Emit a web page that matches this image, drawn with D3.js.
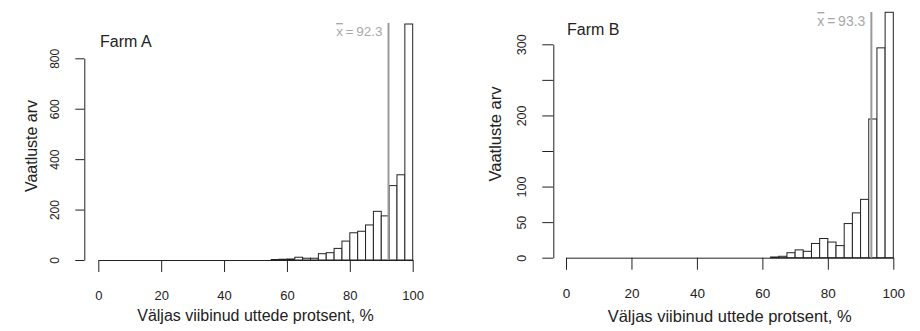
<!DOCTYPE html>
<html><head><meta charset="utf-8">
<script src="https://cdn.jsdelivr.net/npm/d3@7/dist/d3.min.js"></script>
<style>
body{margin:0;background:#fff}
text{font-family:"Liberation Sans",Arial,sans-serif;fill:#222}
</style>
</head><body>
<svg id="c" width="920" height="331"></svg>
<script>
// ---- data ----
const binBreaks = [0,2.5,5,7.5,10,12.5,15,17.5,20,22.5,25,27.5,30,32.5,35,37.5,40,42.5,45,47.5,50,52.5,55,57.5,60,62.5,65,67.5,70,72.5,75,77.5,80,82.5,85,87.5,90,92.5,95,97.5,100];
const countsA = [0,0,0,0,0,0,0,0,0,0,0,0,0,0,0,0,0,0,0,0,0,0,2,3,4,11,7,7,25,29,46,75,108,114,139,193,175,295,338,936];
const countsB = [0,0,0,0,0,0,0,0,0,0,0,0,0,0,0,0,0,0,0,0,0,0,0,0,0,1,2,7,11,9,20,27,22,17,48,63,82,195,295,345];
const xTicks = [0,20,40,60,80,100];
const yTicksA = [0,200,400,600,800];
const yLabelsA = ["0","200","400","600","800"];
const yTicksB = [0,50,100,150,200,250,300];
const yLabelsB = ["0","50","100","","200","","300"];
const meanA = 92.3, meanB = 93.3;
const titleA = "Farm A", titleB = "Farm B";
const xTitle = "Väljas viibinud uttede protsent, %";
const yTitle = "Vaatluste arv";

const svg = d3.select("#c");

function panel(o){
  const g = svg.append("g");
  const x = d3.scaleLinear().domain([0,100]).range([o.x0,o.x1]);
  const y = d3.scaleLinear().domain([0,o.yMax]).range([o.y0,o.y1]);
  const bins = o.counts.map((c,i)=>({a:binBreaks[i],b:binBreaks[i+1],c}));
  // bars
  g.selectAll("rect.bar").data(bins).enter().append("rect")
    .attr("x",d=>x(d.a)).attr("width",d=>x(d.b)-x(d.a))
    .attr("y",d=>y(d.c)).attr("height",d=>y(0)-y(d.c))
    .attr("fill","#fff").attr("stroke","#222").attr("stroke-width",1);
  // x axis
  const xa = g.append("g").attr("transform",`translate(0,${y(0)})`)
    .call(d3.axisBottom(x).tickValues(xTicks).tickSize(o.xTick).tickSizeOuter(0).tickFormat(d3.format("d")));
  xa.select(".domain").attr("stroke","#222");
  xa.selectAll(".tick line").attr("stroke","#222");
  xa.selectAll("text").attr("y",o.xLabY).attr("dy",0).style("font-size",o.xFs+"px").attr("font-family",null).attr("fill","#222");
  // y axis
  const ya = g.append("g").attr("transform",`translate(${o.ax},0)`)
    .call(d3.axisLeft(y).tickValues(o.yTicks).tickSize(o.yTick).tickSizeOuter(0).tickFormat((d,i)=>o.yLabels[i]));
  ya.select(".domain").attr("stroke","#222");
  ya.selectAll(".tick line").attr("stroke","#222");
  ya.selectAll("text").attr("x",0).attr("dy",0)
    .attr("transform",`translate(${o.yLabX},0) rotate(-90)`)
    .attr("text-anchor","middle").style("font-size",o.yFs+"px").attr("fill","#222");
  // mean line
  g.append("line").attr("x1",x(o.mean)).attr("x2",x(o.mean))
    .attr("y1",y(0)).attr("y2",o.meanTop).attr("stroke","#9a9a9a").attr("stroke-width",2);
  const mt = g.append("text").attr("x",x(o.mean)-6).attr("y",o.meanLabY)
    .attr("text-anchor","end").style("font-size",o.meanFs+"px").style("fill","#a8a8a8");
  mt.append("tspan").style("text-decoration","overline").text("x");
  mt.append("tspan").text("\u2009=\u200992.3".replace("92.3",o.mean));
  // titles
  g.append("text").attr("x",o.tx).attr("y",o.ty).style("font-size",o.tFs+"px").text(o.title);
  g.append("text").attr("x",(o.x0+o.x1)/2).attr("y",o.xtY).attr("text-anchor","middle")
    .style("font-size",o.xtFs+"px").text(xTitle);
  g.append("text").attr("transform",`translate(${o.ytX},${o.ytY}) rotate(-90)`)
    .attr("text-anchor","middle").style("font-size",o.xtFs+"px").text(yTitle);
}

panel({counts:countsA,yMax:800,x0:98.3,x1:412.7,y0:260,y1:58.3,ax:84.3,
  yTicks:yTicksA,yLabels:yLabelsA,xTick:12,yTick:9,xLabY:40,xFs:13,yLabX:-25,yFs:12,
  mean:meanA,meanTop:23,meanLabY:36,meanFs:13.5,title:titleA,tx:100,ty:47,tFs:16,
  xtY:321,xtFs:16,ytX:37,ytY:146});
panel({counts:countsB,yMax:300,x0:566,x1:893.3,y0:257.7,y1:44.3,ax:553.3,
  yTicks:yTicksB,yLabels:yLabelsB,xTick:12,yTick:11,xLabY:40,xFs:13.5,yLabX:-27,yFs:12.5,
  mean:meanB,meanTop:12,meanLabY:26,meanFs:14,title:titleB,tx:567,ty:35,tFs:16,
  xtY:321.5,xtFs:16.5,ytX:501,ytY:134});
</script>
</body></html>
